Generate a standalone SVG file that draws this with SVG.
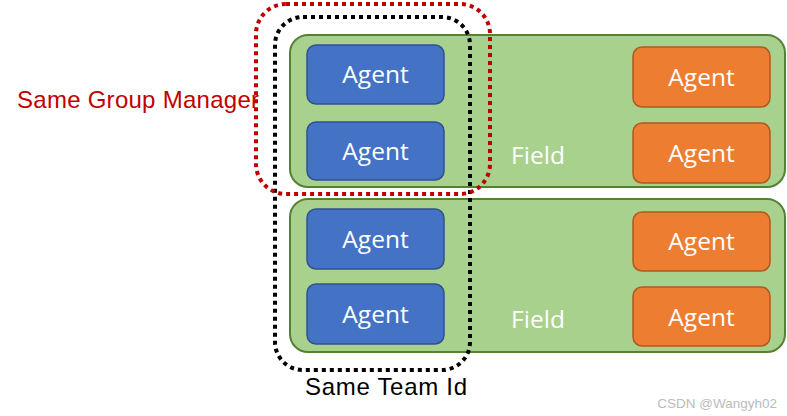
<svg xmlns="http://www.w3.org/2000/svg" width="787" height="416" viewBox="0 0 787 416">
<style>
.field{fill:#A9D18E;stroke:#548235;stroke-width:2}
.blue{fill:#4472C4;stroke:#2F528F;stroke-width:1.5}
.orange{fill:#ED7D31;stroke:#AE5A21;stroke-width:1.5}
.lbl{font-family:"Open Sans","Liberation Sans",sans-serif;font-size:24.5px;fill:#fff;text-anchor:middle}
.cap{font-family:"Liberation Sans",Arial,sans-serif;font-size:24px}
.dot{fill:none;stroke-width:4;stroke-dasharray:4 4}
</style>
<rect width="787" height="416" fill="#fff"/>
<g id="field1"><rect class="field" x="290" y="35" width="495" height="152" rx="18"/><text class="lbl" x="538" y="164">Field</text></g>
<g id="field2"><rect class="field" x="290" y="199" width="495" height="153" rx="18"/><text class="lbl" x="538" y="328">Field</text></g>
<g id="agent1"><rect class="blue" x="307" y="45" width="137" height="59" rx="9"/><text class="lbl" x="375.5" y="83">Agent</text></g>
<g id="agent2"><rect class="blue" x="307" y="122" width="137" height="58" rx="9"/><text class="lbl" x="375.5" y="160">Agent</text></g>
<g id="agent3"><rect class="blue" x="307" y="209" width="137" height="60" rx="9"/><text class="lbl" x="375.5" y="248">Agent</text></g>
<g id="agent4"><rect class="blue" x="307" y="284" width="137" height="60" rx="9"/><text class="lbl" x="375.5" y="323">Agent</text></g>
<g id="agent5"><rect class="orange" x="633" y="47" width="137" height="60" rx="9"/><text class="lbl" x="701.5" y="86">Agent</text></g>
<g id="agent6"><rect class="orange" x="633" y="123" width="137" height="60" rx="9"/><text class="lbl" x="701.5" y="162">Agent</text></g>
<g id="agent7"><rect class="orange" x="633" y="212" width="137" height="59" rx="9"/><text class="lbl" x="701.5" y="250">Agent</text></g>
<g id="agent8"><rect class="orange" x="633" y="287" width="137" height="59" rx="9"/><text class="lbl" x="701.5" y="326">Agent</text></g>
<g id="connectors"></g>
<g id="team"><rect class="dot" x="275" y="17" width="195" height="353" rx="28" stroke="#000"/><text class="cap" x="305" y="395" textLength="162" fill="#000">Same Team Id</text></g>
<g id="group"><rect class="dot" x="256" y="4" width="234" height="190" rx="30" stroke="#C00000"/><text class="cap" x="17" y="108" textLength="242" fill="#C00000">Same Group Manager</text></g>
<text x="777" y="408" text-anchor="end" font-family="'Liberation Sans',Arial,sans-serif" font-size="13.5" fill="#bbb">CSDN @Wangyh02</text>
</svg>
